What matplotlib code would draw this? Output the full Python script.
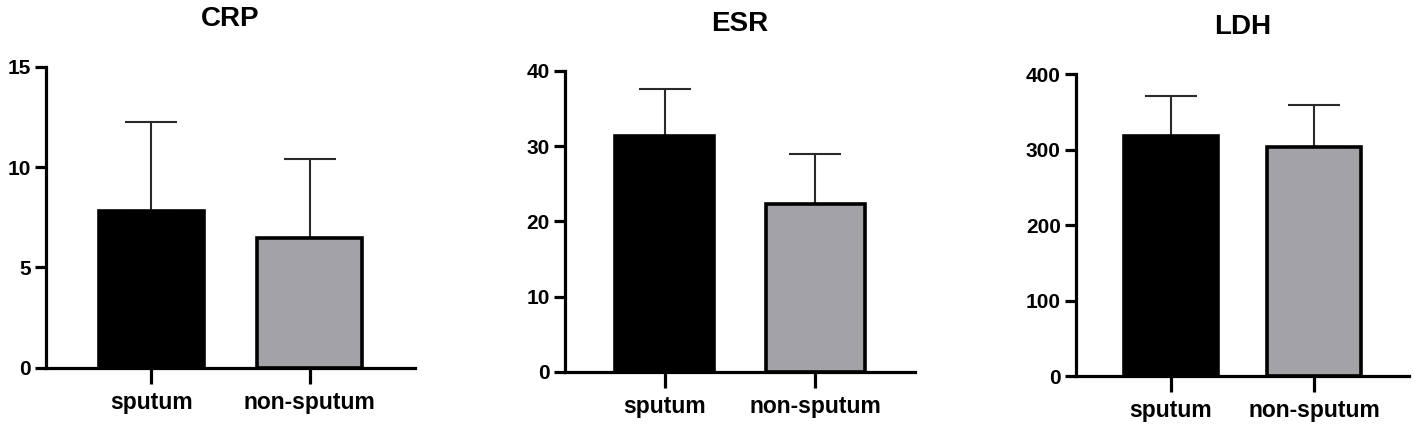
import matplotlib
matplotlib.use("Agg")
import matplotlib.pyplot as plt

plt.rcParams['font.family'] = ['Liberation Sans', 'DejaVu Sans']
plt.rcParams['font.weight'] = 'bold'

groups = ["sputum", "non-sputum"]
titles = ["CRP", "ESR", "LDH"]
crp_mean = [7.8, 6.48]
crp_sd = [4.43, 3.9]
esr_mean = [31.4, 22.3]
esr_sd = [6.15, 6.6]
ldh_mean = [317.6, 303.5]
ldh_sd = [54.1, 55.5]
yticks_list = [[0, 5, 10, 15], [0, 10, 20, 30, 40], [0, 100, 200, 300, 400]]
ylims = [(0, 15), (0, 40), (0, 400)]

means = [crp_mean, esr_mean, ldh_mean]
sds = [crp_sd, esr_sd, ldh_sd]

W, H = 1418, 425
fig = plt.figure(figsize=(W / 100, H / 100), dpi=100)

# axes rectangles in pixels: left, right, bottom(y from top), top(y from top)
rects = [(46, 415, 367.7, 66.7), (565, 915, 371.7, 71), (1076, 1409, 376, 74.3)]
colors = ["#000000", "#a3a3a7"]

for i in range(3):
    l, r, b, t = rects[i]
    ax = fig.add_axes([l / W, 1 - b / H, (r - l) / W, (b - t) / H])
    x = [0, 1]
    ax.bar(x, means[i], width=0.66, color=colors, edgecolor="black",
           linewidth=2.6, zorder=2)
    ax.errorbar(x, means[i], yerr=[[0, 0], sds[i]], fmt="none",
                ecolor="#2a2a2a", elinewidth=1.5, capsize=19, capthick=1.5,
                zorder=1)
    ax.set_xlim(-0.665, 1.665)
    ax.set_ylim(*ylims[i])
    ax.set_yticks(yticks_list[i])
    ax.set_xticks(x)
    ax.set_xticklabels(groups)
    for s in ["top", "right"]:
        ax.spines[s].set_visible(False)
    for s in ["left", "bottom"]:
        ax.spines[s].set_linewidth(2.3)
        ax.spines[s].set_capstyle("projecting")
    ax.tick_params(axis="y", length=8, width=2.3, labelsize=15, pad=3)
    ax.tick_params(axis="x", length=11.5, width=2.3, labelsize=16.5, pad=5)
    for lab in ax.get_xticklabels() + ax.get_yticklabels():
        lab.set_fontweight("bold")
    ax.set_title(titles[i], fontsize=20, fontweight="bold", pad=29)

fig.savefig("out.png", dpi=100, facecolor="white")
